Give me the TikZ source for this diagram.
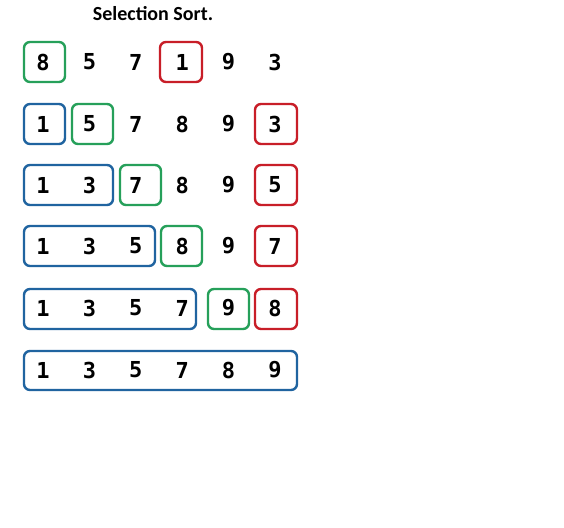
\documentclass[tikz,border=0pt]{standalone}
\usepackage{fontspec}
\setmainfont{Carlito}
\newfontfamily\digf{DejaVu Sans Mono Bold}
\definecolor{gbox}{RGB}{38,160,90}
\definecolor{bbox}{RGB}{32,100,160}
\definecolor{rbox}{RGB}{200,30,40}
\begin{document}
\begin{tikzpicture}[x=1pt,y=-1pt,
  num/.style={font=\digf\fontsize{22}{22}\selectfont, inner sep=0pt, anchor=center},
  frame/.style={line width=2.4pt, rounded corners=6pt},
  gfr/.style={frame, draw=gbox},
  bfr/.style={frame, draw=bbox},
  rfr/.style={frame, draw=rbox}]
\useasboundingbox[fill=white] (0,0) rectangle (564,527);
\node[font=\bfseries\fontsize{20}{20}\selectfont] (title) at (153,14) {Selection Sort.};
% row values
\foreach \r/\y/\vals in {1/62/{8,5,7,1,9,3},2/124/{1,5,7,8,9,3},3/185/{1,3,7,8,9,5},4/246/{1,3,5,8,9,7},5/308/{1,3,5,7,9,8},6/370/{1,3,5,7,8,9}}{
  \foreach \v [count=\c] in \vals {
    \pgfmathsetmacro\xx{43+46.4*(\c-1)}
    \node[num] (n\r\c) at (\xx,\y) {\v};
  }
}
% row 1
\draw[gfr] (24,42) rectangle (65,82);
\draw[rfr] (160,42) rectangle (202,82);
% row 2
\draw[bfr] (24,104) rectangle (65,144);
\draw[gfr] (72,104) rectangle (113,144);
\draw[rfr] (255,104) rectangle (297,144);
% row 3
\draw[bfr] (24,165) rectangle (113,205);
\draw[gfr] (120,165) rectangle (161,205);
\draw[rfr] (255,165) rectangle (297,205);
% row 4
\draw[bfr] (24,226) rectangle (155,266);
\draw[gfr] (161,226) rectangle (202,266);
\draw[rfr] (255,226) rectangle (297,266);
% row 5
\draw[bfr] (24,289) rectangle (196,329);
\draw[gfr] (208,289) rectangle (249,329);
\draw[rfr] (255,289) rectangle (297,329);
% row 6
\draw[bfr] (24,351) rectangle (297,390);
\end{tikzpicture}
\end{document}
